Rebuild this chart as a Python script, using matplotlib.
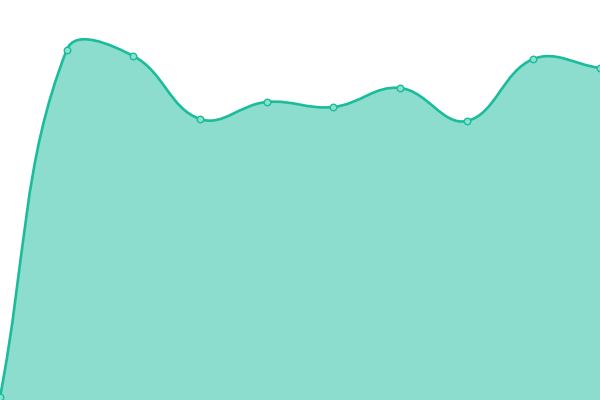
import matplotlib
matplotlib.use('Agg')
import matplotlib.pyplot as plt
import numpy as np
from matplotlib.path import Path
from matplotlib.patches import PathPatch

# values (chart units, 0..400)
values = [3, 350, 344, 281, 298, 293, 312, 279, 341, 332]
labels = list(range(len(values)))

LINE = '#1abc9c'
TENSION = 0.4


def control_points(xs, ys, t):
    # Chart.js style spline control points
    n = len(xs)
    pts = np.column_stack([xs, ys])
    prev_cp, next_cp = [], []
    for i in range(n):
        p0 = pts[max(i - 1, 0)]
        p1 = pts[i]
        p2 = pts[min(i + 1, n - 1)]
        d01 = np.hypot(*(p1 - p0))
        d12 = np.hypot(*(p2 - p1))
        tot = d01 + d12
        s01 = d01 / tot if tot else 0
        s12 = d12 / tot if tot else 0
        prev_cp.append(p1 - t * s01 * (p2 - p0))
        next_cp.append(p1 + t * s12 * (p2 - p0))
    return pts, prev_cp, next_cp


fig = plt.figure(figsize=(6, 4), dpi=100)
ax = fig.add_axes([0, 0, 1, 1])
ax.set_xlim(0, 600)
ax.set_ylim(0, 400)
ax.axis('off')

xs = np.array(labels) * 600 / (len(values) - 1)
ys = np.array(values, dtype=float)
pts, pc, nc = control_points(xs, ys, TENSION)

verts = [pts[0]]
codes = [Path.MOVETO]
for i in range(1, len(pts)):
    verts += [nc[i - 1], pc[i], pts[i]]
    codes += [Path.CURVE4] * 3

line_path = Path(verts, codes)
fill_path = Path(verts + [(xs[-1], 0), (xs[0], 0), pts[0]],
                 codes + [Path.LINETO, Path.LINETO, Path.CLOSEPOLY])

ax.add_patch(PathPatch(fill_path, facecolor=LINE, alpha=0.5, edgecolor='none'))
ax.add_patch(PathPatch(line_path, facecolor='none', edgecolor=LINE, lw=1.9))
ax.scatter(xs, ys, s=22, facecolor='#8ce0cf', edgecolor=LINE, linewidth=1.0,
           zorder=5, clip_on=False)

fig.savefig('out.png', dpi=100)
